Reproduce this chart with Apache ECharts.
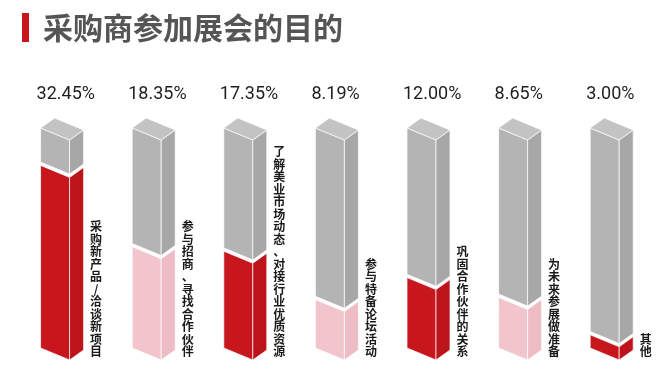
<!DOCTYPE html>
<html>
<head>
<meta charset="utf-8">
<script src="https://cdn.jsdelivr.net/npm/echarts@6/dist/echarts.min.js"></script>
<style>
html,body{margin:0;padding:0;background:#fff;}
#chart{width:672px;height:381px;}
</style>
</head>
<body>
<div id="chart"></div>
<script>
// ---- data ----
const titleText = '采购商参加展会的目的';
const categories = ['采购新产品/洽谈新项目', '参与招商、寻找合作伙伴', '了解美业市场动态、对接行业优质资源', '参与特备论坛活动', '巩固合作伙伴的关系', '为未来参展做准备', '其他'];
const percentValues = [32.45, 18.35, 17.35, 8.19, 12.00, 8.65, 3.00];
// filled height of each column as drawn (percent of column height)
const fillLevels = [83, 46, 44, 22, 32, 23, 6];

// ---- styles ----
const grayFaces = {front: '#b4b4b4', side: '#a7a7a7', top: '#c3c3c3'};
const redFaces = {front: '#c8161d', side: '#bd141b', top: '#d0262d'};
const pinkFaces = {front: '#f2c4cc', side: '#edbcc5', top: '#f5ced5'};
const GAP = 1.5;
const FRONT_W = 29, SIDE_W = 14, FRONT_DROP = 12, SIDE_RISE = 10;

const chart = echarts.init(document.getElementById('chart'), null, {renderer: 'canvas'});

function prism(xl, yTop, yBot, faces, withTop) {
  const xf = xl + FRONT_W, xr = xf + SIDE_W;
  const stroke = {stroke: '#ffffff', lineWidth: 0.7};
  const ch = [
    {type: 'polygon', shape: {points: [[xl, yTop], [xf, yTop + FRONT_DROP], [xf, yBot + FRONT_DROP], [xl, yBot]]},
     style: Object.assign({fill: faces.front}, stroke)},
    {type: 'polygon', shape: {points: [[xf, yTop + FRONT_DROP], [xr, yTop + FRONT_DROP - SIDE_RISE], [xr, yBot + FRONT_DROP - SIDE_RISE], [xf, yBot + FRONT_DROP]]},
     style: Object.assign({fill: faces.side}, stroke)}
  ];
  if (withTop) {
    ch.push({type: 'polygon', shape: {points: [[xl, yTop], [xl + SIDE_W, yTop - SIDE_RISE], [xr, yTop + FRONT_DROP - SIDE_RISE], [xf, yTop + FRONT_DROP]]},
      style: Object.assign({fill: faces.top}, stroke)});
  }
  return ch;
}

const seriesData = categories.map((c, i) => [i, fillLevels[i], percentValues[i]]);

const option = {
  animation: false,
  backgroundColor: '#ffffff',
  grid: {left: 16.3, right: 14.5, top: 128, bottom: 33},
  xAxis: {type: 'category', data: categories, show: false},
  yAxis: {type: 'value', min: 0, max: 100, show: false},
  graphic: [
    {type: 'rect', shape: {x: 22, y: 13, width: 7, height: 29}, style: {fill: '#c8161d'}},
    {type: 'text', x: 43, y: 28, style: {text: titleText, font: 'bold 30px "Noto Sans CJK SC"', fill: '#555555', textVerticalAlign: 'middle', textAlign: 'left'}}
  ],
  series: [{
    type: 'custom',
    data: seriesData,
    renderItem: function (params, api) {
      const i = api.value(0);
      const fill = api.value(1);
      const pct = api.value(2);
      const c0 = api.coord([i, 0]);
      const c100 = api.coord([i, 100]);
      const cf = api.coord([i, fill]);
      const cg = api.coord([i, fill + GAP]);
      const xl = c0[0] - (FRONT_W + SIDE_W) / 2;
      const faces = (i % 2 === 0) ? redFaces : pinkFaces;
      const children = [];
      children.push.apply(children, prism(xl, cf[1], c0[1], faces, false));
      children.push.apply(children, prism(xl, c100[1], cg[1], grayFaces, true));
      children.push({type: 'text', x: xl - 4, y: c100[1] - 34,
        style: {text: pct.toFixed(2) + '%', font: '18px Roboto', fill: '#1e1e1e', textAlign: 'left', textVerticalAlign: 'middle'}});
      children.push({type: 'text', x: xl + 55.5, y: c0[1] + 10,
        style: {text: categories[i].split('').join('\n'), font: 'bold 12px "Noto Sans CJK SC"', lineHeight: 12.5, fill: '#1a1a1a', textAlign: 'center', textVerticalAlign: 'bottom'}});
      return {type: 'group', children: children};
    }
  }]
};
chart.setOption(option);
</script>
</body>
</html>
